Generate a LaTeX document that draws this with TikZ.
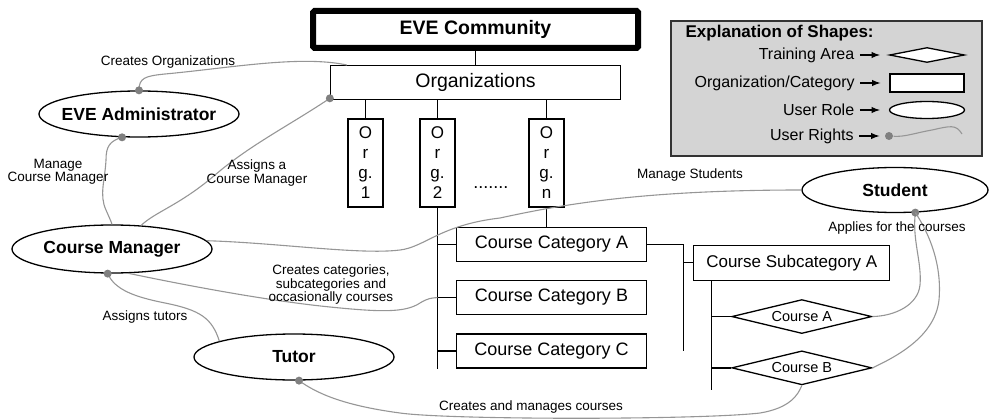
\documentclass[tikz,border=0pt]{standalone}
\usepackage{fontspec}
\setmainfont{Liberation Sans}
\usetikzlibrary{positioning, shapes.geometric}
\definecolor{rightsgray}{RGB}{150,150,150}
\definecolor{dotgray}{RGB}{128,128,128}
\definecolor{legendgray}{RGB}{212,212,212}
\tikzset{
  every node/.style={text=black, inner sep=0pt},
  every path/.style={line width=1.3pt},
  topbox/.style={draw=black, fill=white, line width=6pt, rounded corners=1.5pt, minimum width=325pt, minimum height=37pt, font=\fontsize{19.5}{22}\selectfont\bfseries},
  box/.style={draw=black, fill=white, line width=1.3pt, minimum height=34pt, font=\fontsize{18}{20}\selectfont},
  orgbox/.style={box, minimum width=35pt, minimum height=88pt, align=center, font=\fontsize{17}{20}\selectfont},
  role/.style={ellipse, draw=black, fill=white, line width=1.3pt, inner xsep=-8pt, minimum width=200pt, minimum height=46pt, font=\fontsize{17.5}{20}\selectfont\bfseries},
  course/.style={diamond, draw=black, fill=white, line width=1.3pt, aspect=4, minimum width=140pt, minimum height=34pt, font=\fontsize{14.5}{16}\selectfont},
  conn/.style={draw=black, line width=1.3pt},
  rights/.style={draw=rightsgray, line width=1.1pt},
  rdot/.style={circle, fill=dotgray, minimum size=8pt, inner sep=0pt},
  lbl/.style={align=center, font=\fontsize{13.5}{13.5}\selectfont},
  legtext/.style={font=\fontsize{16}{18}\selectfont},
  legarrow/.style={-latex, draw=black, line width=1.8pt, shorten <=5pt, shorten >=9pt}
}

\begin{document}
\begin{tikzpicture}[x=1pt, y=-1pt]
  \useasboundingbox (0,0) rectangle (990,420);
  % Nodes
  \node (eve) [topbox] at (475.5,29.5) {EVE Community};
  \node (orgs) [box, below=14pt of eve, minimum width=290pt, font=\fontsize{19.5}{22}\selectfont] {Organizations};
  \node (org1) [orgbox, below=18pt of orgs, xshift=-110pt] {O\\r\\g.\\1};
  \node (org2) [orgbox, below=18pt of orgs, xshift=-38pt] {O\\r\\g.\\2};
  \node (orgn) [orgbox, below=18pt of orgs, xshift=71pt] {O\\r\\g.\\n};
  \node (dots) [lbl, right=17pt of org2, yshift=-25pt, font=\fontsize{18}{18}\selectfont] {.......};
  \node (catA) [box, below=19pt of orgn, xshift=5pt, minimum width=190pt] {Course Category A};
  \node (catB) [box, below=18pt of catA, minimum width=190pt] {Course Category B};
  \node (catC) [box, below=18pt of catB, minimum width=190pt] {Course Category C};
  \node (subA) [box, below right=18pt and 46pt of catA.north east, minimum width=196pt, minimum height=35pt, font=\fontsize{17}{19}\selectfont] {Course Subcategory A};
  \node (crsA) [course, below=18pt of subA, xshift=10pt] {Course A};
  \node (crsB) [course, below=16pt of crsA] {Course B};

  \node (admin) [role] at (139,114) {EVE Administrator};
  \node (mgr) [role, minimum height=48pt] at (112,249) {Course Manager};
  \node (tutor) [role] at (294,357) {Tutor};
  \node (student) [role, minimum width=186pt, minimum height=45pt] at (895,190) {Student};

  % Legend
  \node (legend) [draw=black!80, line width=2pt, fill=legendgray, minimum width=311pt, minimum height=135pt] at (826.5,88.5) {};
  \node (legTitle) [anchor=west, font=\fontsize{17}{19}\selectfont\bfseries] at (685,33) {Explanation of Shapes:};
  \node (legDia) [course, aspect=5, minimum width=75pt, minimum height=15pt] at (927,55) {};
  \node (legRect) [box, minimum width=74pt, minimum height=18pt] at (927,83) {};
  \node (legEll) [role, minimum width=75pt, minimum height=17pt] at (927,110) {};
  \node (legDot) [rdot] at (889,136) {};
  \coordinate (legEnd) at (962,134);
  \node (legTrain) [legtext, left=34pt of legDia] {Training Area};
  \node (legOrg) [legtext, left=34pt of legRect] {Organization/Category};
  \node (legRole) [legtext, left=34pt of legEll] {User Role};
  \node (legRights) [legtext, left=30pt of legDot] {User Rights};
  \draw[legarrow] (legTrain.east) -- (legDia.west);
  \draw[legarrow] (legOrg.east) -- (legRect.west);
  \draw[legarrow] (legRole.east) -- (legEll.west);
  \draw[legarrow, shorten >=5pt] (legRights.east) -- (legDot.west);
  \draw[rights] (legDot) .. controls (905,137) and (915,133) .. (932,130) .. controls (950,126) and (956,124) .. (legEnd);

  % Tree
  \draw[conn] (eve) -- (orgs);
  \draw[conn] (orgs.south -| org1) -- (org1);
  \draw[conn] (orgs.south -| org2) -- (org2);
  \draw[conn] (orgs.south -| orgn) -- (orgn);
  \draw[conn] (orgn) -- (orgn |- catA.north);
  \draw[conn] (org2) -- (org2 |- catC.south);
  \draw[conn] (catA.west -| org2) -- (catA);
  \draw[conn] (catB.west -| org2) -- (catB);
  \draw[conn] (catC.west -| org2) -- (catC);
  \coordinate (jA) at ([xshift=36pt]catA.east);
  \draw[conn] (catA) -- (jA) -- (jA |- catC);
  \draw[conn] (subA.west -| jA) -- (subA);
  \coordinate (jS) at ([xshift=18pt]subA.south west);
  \draw[conn] (jS) -- ([yshift=-4pt]jS |- crsB.south);
  \draw[conn] (crsA.west -| jS) -- (crsA);
  \draw[conn] (crsB.west -| jS) -- (crsB);

  % User rights
  \draw[rights] (admin.north) node[rdot] {} .. controls (139,78) and (145,76) .. (165,74) .. controls (230,68) and (300,55) .. ([xshift=17pt]orgs.north west);
  \draw[rights] (admin.-126) node[rdot] {} .. controls (110,141) and (106,146) .. (106,160) .. controls (105,180) and (99,195) .. (106,210) .. controls (109,217) and (111,221) .. (mgr.north);
  \draw[rights] ([yshift=2pt]orgs.south west) node[rdot] {} .. controls (290,125) and (250,145) .. (215,175) .. controls (180,205) and (155,212) .. (mgr.39);
  \draw[rights] (mgr.5) .. controls (280,243) and (360,255) .. (400,250) .. controls (425,247) and (440,225) .. (500,218) .. controls (560,205) and (640,190) .. (student.west);
  \draw[rights] (mgr.-56) .. controls (170,282) and (260,300) .. (330,307) .. controls (380,312) and (405,313) .. (420,303) .. controls (428,298) and (432,298) .. (catB.west -| org2);
  \draw[rights] (mgr.-100) node[rdot] {} .. controls (115,290) and (135,297) .. (165,303) .. controls (200,310) and (212,318) .. (tutor.168);
  \draw[rights] (tutor.-78) node[rdot] {} .. controls (315,392) and (340,405) .. (400,413) .. controls (450,420) and (700,420) .. (760,413) .. controls (790,408) and (798,395) .. (crsB.south);
  \draw[rights] (student.-48) node[rdot] {} .. controls (912,240) and (922,262) .. (920,285) .. controls (918,305) and (895,316) .. (crsA.east);
  \draw[rights] (student.-48) .. controls (930,235) and (942,265) .. (939,300) .. controls (935,335) and (900,355) .. (crsB.east);

  % Labels
  \node (lCreOrg) [lbl] at (168,62) {Creates Organizations};
  \node (lManMgr) [lbl] at (58,172) {Manage\\Course Manager};
  \node (lAssMgr) [lbl] at (257,173) {Assigns a\\Course Manager};
  \node (lManStu) [lbl] at (690,175) {Manage Students};
  \node (lCreCat) [lbl] at (331,285) {Creates categories,\\subcategories and\\occasionally courses};
  \node (lAssTut) [lbl] at (145,317) {Assigns tutors};
  \node (lCreCrs) [lbl] at (531,407) {Creates and manages courses};
  \node (lApply) [lbl] at (897,228) {Applies for the courses};
\end{tikzpicture}
\end{document}
